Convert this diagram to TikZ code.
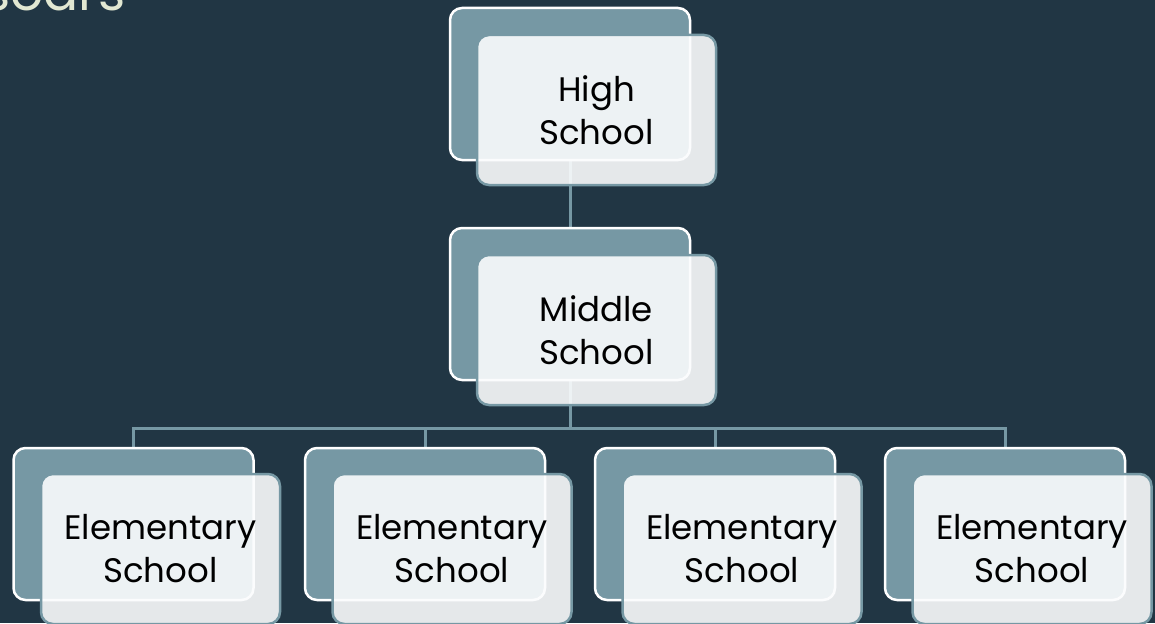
\documentclass[tikz,border=0pt]{standalone}
\usepackage{fontspec}
\setmainfont{Poppins}
\usetikzlibrary{backgrounds}
\definecolor{slate}{HTML}{213644}
\definecolor{steel}{HTML}{7698A4}
\definecolor{paper}{HTML}{FBFCFD}
\definecolor{cream}{HTML}{E2E8D2}
\tikzset{
  backbox/.style={draw=white, line width=2.5pt, fill=steel, rounded corners=12pt,
    minimum width=240pt, minimum height=152pt, inner sep=0pt},
  frontbox/.style={draw=steel, line width=2.5pt, fill=paper, fill opacity=0.9,
    text opacity=1, rounded corners=12pt, minimum width=239pt, minimum height=150pt,
    inner sep=0pt, align=center, font=\fontsize{34}{43}\selectfont},
  link/.style={draw=steel, line width=3pt}
}
\begin{document}
\begin{tikzpicture}[x=1pt,y=-1pt]
\useasboundingbox (0,0) rectangle (1155,623);
\clip (0,0) rectangle (1155,623);
\node[anchor=base west, inner sep=0pt, text=cream, font=\fontsize{52}{52}\selectfont] (title) at (-17,11) {soars};
% top of the tree
\node[backbox] (hsb) at (570,84) {};
\node[frontbox] (hs) at (596.5,110) {High\\School};
\node[backbox] (msb) at (570,304) {};
\node[frontbox] (ms) at (596.5,330) {Middle\\School};
% bottom row
\node[backbox] (es1b) at (133.5,524) {};
\node[frontbox] (es1) at (160.5,549) {Elementary\\School};
\node[backbox] (es2b) at (425,524) {};
\node[frontbox] (es2) at (452,549) {Elementary\\School};
\node[backbox] (es3b) at (715,524) {};
\node[frontbox] (es3) at (742,549) {Elementary\\School};
\node[backbox] (es4b) at (1005,524) {};
\node[frontbox] (es4) at (1032,549) {Elementary\\School};
\coordinate (bus) at (570,428);
\begin{scope}[on background layer]
\fill[slate] (0,0) rectangle (1155,623);
\draw[link] (hsb.center) -- (msb.center);
\draw[link] (msb.center) -- (bus);
\draw[link] (es1b.center) |- (bus) -| (es4b.center);
\draw[link] (es2b.center) -- (es2b.center |- bus);
\draw[link] (es3b.center) -- (es3b.center |- bus);
\end{scope}
\end{tikzpicture}
\end{document}
